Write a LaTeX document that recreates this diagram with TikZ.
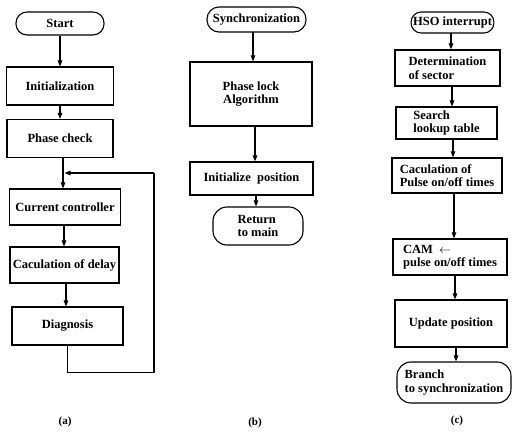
\documentclass[tikz,border=0pt]{standalone}
\usepackage{fontspec}
\setmainfont{Liberation Serif}
\usetikzlibrary{arrows.meta}
\begin{document}
\begin{tikzpicture}[x=1pt,y=-1pt,
  every node/.style={font=\fontsize{12.5}{13.5}\selectfont\bfseries, inner sep=2pt},
  box/.style={draw, line width=1.1pt, rectangle, align=center},
  lbox/.style={box, align=left},
  term/.style={draw, line width=1.1pt, rectangle, rounded corners=11pt, align=left},
  arr/.style={line width=1.1pt, -{Triangle[length=6pt,width=4.5pt]}},
  ln/.style={line width=1.1pt},
  captxt/.style={font=\fontsize{11}{12}\selectfont\bfseries}]
\useasboundingbox (0,0) rectangle (525,433);
% (a)
\node[term, minimum width=88pt, minimum height=23pt] (start) at (60,23.5) {Start};
\node[box, minimum width=107pt, minimum height=38pt] (init) at (60,86) {Initialization};
\node[box, minimum width=106pt, minimum height=38pt] (phase) at (60,138.5) {Phase check};
\node[box, minimum width=111pt, minimum height=36pt] (curr) at (65,207) {Current controller};
\node[box, minimum width=109pt, minimum height=36pt] (calc) at (64.5,265) {Caculation of delay};
\node[box, minimum width=111pt, minimum height=38pt] (diag) at (67.5,326) {Diagnosis};
\draw[arr] (start) -- (start |- init.north);
\draw[arr] (init) -- (init |- phase.north);
\coordinate (pj) at (63,157.5);
\draw[arr] (pj) -- (pj |- curr.north);
\coordinate (cj) at (64,225);
\draw[arr] (cj) -- (cj |- calc.north);
\coordinate (dj) at (66,283);
\draw[arr] (dj) -- (dj |- diag.north);
\coordinate (lp) at (154,173);
\coordinate (lt) at (64.5,173);
\draw[ln] (diag.south) -- ++(0,27) -| (lp);
\draw[arr] (lp) -- (lt);
\node[captxt] (la) at (65,422) {(a)};
% (b)
\node[term, minimum width=99pt, minimum height=25pt, rounded corners=12pt] (sync) at (256.5,19.5) {Synchronization};
\node[box, minimum width=122pt, minimum height=64pt] (plock) at (251,94) {Phase lock\\Algorithm};
\node[box, minimum width=123pt, minimum height=33pt] (ipos) at (251.5,178.5) {Initialize\ \ position};
\node[term, minimum width=90pt, minimum height=38pt, rounded corners=14pt] (ret) at (258,226) {Return\\to main};
\coordinate (sj) at (253,32);
\draw[arr] (sj) -- (sj |- plock.north);
\coordinate (kj) at (255,126);
\draw[arr] (kj) -- (kj |- ipos.north);
\coordinate (ij) at (256,195);
\draw[arr] (ij) -- (ij |- ret.north);
\node[captxt] (lb) at (255,423) {(b)};
% (c)
\node[term, minimum width=81pt, minimum height=21pt, rounded corners=10pt] (hso) at (452.5,22.5) {HSO interrupt};
\node[lbox, minimum width=105pt, minimum height=36pt] (det) at (447.5,68) {Determination\\of sector};
\node[lbox, minimum width=101pt, minimum height=32pt] (search) at (446.5,123) {Search\\lookup table};
\node[lbox, minimum width=110pt, minimum height=35pt] (calcp) at (447,175.5) {Caculation of\\Pulse on/off times};
\node[lbox, minimum width=114pt, minimum height=36pt] (cam) at (450,257) {CAM\ \ $\leftarrow$\\pulse on/off times};
\node[box, minimum width=112pt, minimum height=47pt] (upd) at (451,323.5) {Update position};
\node[term, minimum width=114pt, minimum height=41pt, rounded corners=14pt] (branch) at (454,382.5) {Branch\\to synchronization};
\coordinate (hj) at (451,33);
\draw[arr] (hj) -- (hj |- det.north);
\coordinate (dtj) at (452,86);
\draw[arr] (dtj) -- (dtj |- search.north);
\coordinate (srj) at (453,139);
\draw[arr] (srj) -- (srj |- calcp.north);
\coordinate (cpj) at (454,193);
\draw[arr] (cpj) -- (cpj |- cam.north);
\coordinate (cmj) at (455,275);
\draw[arr] (cmj) -- (cmj |- upd.north);
\coordinate (uj) at (456,347);
\draw[arr] (uj) -- (uj |- branch.north);
\node[captxt] (lc) at (457,421) {(c)};
\end{tikzpicture}
\end{document}
